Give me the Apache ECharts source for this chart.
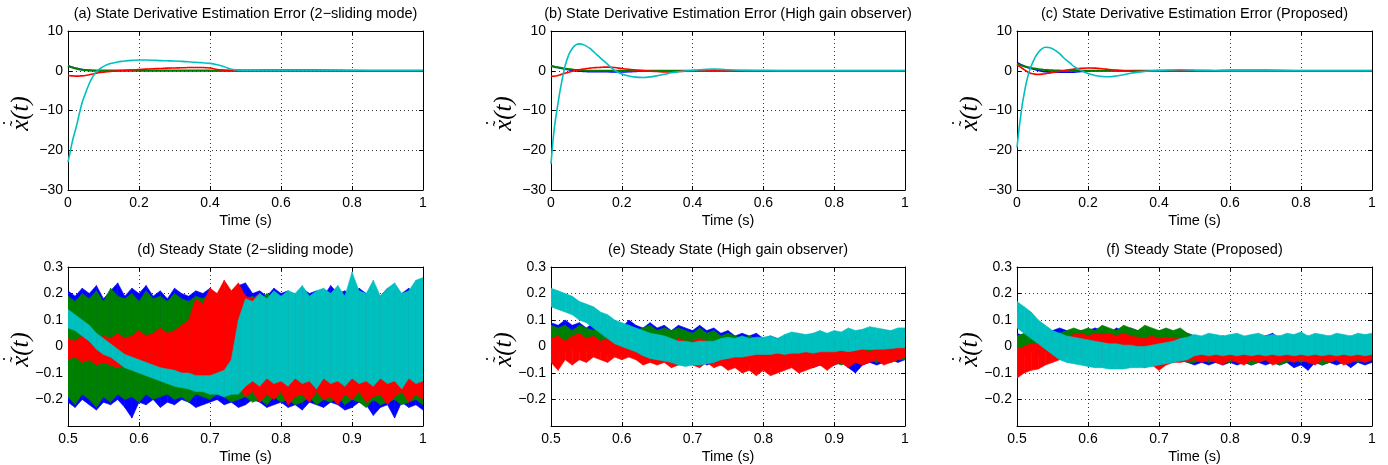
<!DOCTYPE html>
<html><head><meta charset="utf-8">
<script src="https://cdn.jsdelivr.net/npm/echarts@6/dist/echarts.min.js"></script>
<style>html,body{margin:0;padding:0;background:#fff}#c{width:1388px;height:465px}</style>
</head><body><div id="c"></div>
<script>
// ---------- transient (top row) data ----------
const T_TOP = [0,0.005,0.01,0.015,0.02,0.025,0.03,0.035,0.04,0.05,
 0.06,0.07,0.08,0.09,0.10,0.11,0.12,0.13,0.14,0.15,
 0.16,0.18,0.20,0.22,0.24,0.26,0.28,0.30,0.32,0.34,
 0.36,0.38,0.40,0.42,0.44,0.46,0.48,0.50,0.55,0.60,
 0.70,0.80,0.90,1.00];

const A_BLUE = [1.1,1.0,0.9,0.8,0.7,0.6,0.5,0.4,0.3,0.2,
 0.1,0.05,0,0,0,0,0,0,0,0, 0,0,0,0,0,0,0,0,0,0, 0,0,0,0,0,0,0,0,0,0, 0,0,0,0];
const A_GREEN = [1.3,1.1,0.9,0.75,0.6,0.5,0.4,0.3,0.25,0.15,
 0.1,0.05,0.05,0.05,0.05,0.05,0.05,0.05,0.05,0.05,
 0.05,0.05,0.05,0.05,0.05,0.05,0.05,0.05,0.05,0.05,
 0.05,0.05,0.05,0,0,0,0,0,0,0, 0,0,0,0];
const A_RED = [-1.2,-1.25,-1.3,-1.3,-1.35,-1.35,-1.35,-1.3,-1.3,-1.2,
 -1.0,-0.8,-0.6,-0.45,-0.35,-0.25,-0.15,-0.1,0.0,0.05,
 0.1,0.2,0.3,0.4,0.5,0.55,0.65,0.7,0.75,0.8,
 0.8,0.8,0.7,0.3,0.15,0.1,0.1,0.1,0.15,0.15,
 0.15,0.05,0,0];
const A_CYAN = [-23,-20.9,-18.7,-16.8,-15.2,-13.5,-11.5,-9.7,-7.9,-5.5,
 -3.2,-1.5,-0.2,0.5,1.1,1.5,1.8,2.0,2.2,2.35,
 2.45,2.6,2.7,2.7,2.65,2.55,2.5,2.45,2.35,2.25,
 2.15,2.0,1.85,1.5,1.0,0.4,0.15,0.1,0.1,0.1,
 0.1,0.05,0.05,0.05];

const B_BLUE = [1.2,1.1,1.0,0.9,0.8,0.7,0.6,0.5,0.4,0.25,
 0.1,0,-0.1,-0.15,-0.2,-0.25,-0.25,-0.25,-0.25,-0.25,
 -0.25,-0.3,-0.3,-0.25,-0.15,-0.05,0,0,0,0,
 0,0,0,0,0,0,0,0,0,0, 0,0,0,0];
const B_GREEN = [1.2,1.1,1.0,0.9,0.85,0.75,0.7,0.6,0.5,0.4,
 0.3,0.2,0.15,0.1,0.05,0,0,0,0,0,
 0,0,0,0,0,0,0,0,0,0, 0,0,0,0,0,0,0,0,0,0, 0,0,0,0];
const B_RED = [-1.4,-1.4,-1.35,-1.3,-1.2,-1.05,-0.9,-0.75,-0.6,-0.4,
 -0.15,0.05,0.25,0.4,0.55,0.65,0.75,0.8,0.85,0.9,
 0.9,0.8,0.55,0.35,0.2,0.05,-0.1,-0.2,-0.3,-0.3,
 -0.2,-0.1,0,0,0,0,0,0,0,0, 0,0,0,0];
const B_CYAN = [-23.5,-18.2,-14,-10.9,-8.1,-5.3,-2.9,-0.7,1.3,4.0,
 5.6,6.5,6.75,6.6,6.2,5.6,4.8,4.0,3.2,2.4,
 1.6,0.1,-0.8,-1.3,-1.6,-1.7,-1.55,-1.25,-0.9,-0.5,
 -0.25,-0.05,0.1,0.25,0.35,0.4,0.35,0.25,0.1,0.05,
 0,0,0,0];

const C_BLUE = [2.1,1.85,1.6,1.4,1.2,1.0,0.85,0.7,0.55,0.3,
 0.1,-0.1,-0.25,-0.3,-0.35,-0.35,-0.35,-0.35,-0.35,-0.35,
 -0.35,-0.2,-0.05,0,0,0,0,0,0,0,
 0,0,0,0,0,0,0,0,0,0, 0,0,0,0];
const C_GREEN = [1.7,1.55,1.4,1.25,1.1,1.0,0.9,0.8,0.7,0.55,
 0.4,0.3,0.2,0.15,0.1,0.05,0.05,0,0,0,
 0,0,0,0,0,0,0,0,0,0, 0,0,0,0,0,0,0,0,0,0, 0,0,0,0];
const C_RED = [1.5,1.2,0.9,0.6,0.3,0.0,-0.3,-0.5,-0.7,-0.85,
 -0.9,-0.85,-0.75,-0.6,-0.45,-0.3,-0.15,0.0,0.15,0.3,
 0.4,0.6,0.7,0.65,0.5,0.3,0.15,0.0,-0.1,-0.15,
 -0.1,-0.05,0,0,0,0,0,0,0,0.1,
 0.1,0,0,0];
const C_CYAN = [-19.3,-15.2,-11.7,-8.4,-5.9,-3.5,-1.6,0.0,1.2,3.2,
 4.6,5.5,5.9,5.85,5.55,5.0,4.3,3.4,2.6,1.9,
 1.1,0.1,-0.7,-1.2,-1.45,-1.5,-1.3,-1.0,-0.65,-0.35,
 -0.15,0.0,0.1,0.15,0.2,0.25,0.2,0.15,0.05,0,
 0,0,0,0];

// ---------- steady state (bottom row): envelopes of noisy traces ----------
const T_SS = [0.50,0.51,0.52,0.53,0.54,0.55,0.56,0.57,0.58,0.59,
 0.60,0.61,0.62,0.63,0.64,0.65,0.66,0.67,0.68,0.69,
 0.70,0.71,0.72,0.73,0.74,0.75,0.76,0.77,0.78,0.79,
 0.80,0.81,0.82,0.83,0.84,0.85,0.86,0.87,0.88,0.89,
 0.90,0.91,0.92,0.93,0.94,0.95,0.96,0.97,0.98,0.99,
 1.00];

// (d) 2-sliding mode
const D_BLUE_HI = [0.21,0.19,0.22,0.20,0.23,0.18,0.21,0.24,0.19,0.22,
 0.20,0.23,0.19,0.21,0.18,0.22,0.20,0.19,0.21,0.20,
 0.22,0.19,0.21,0.20,0.23,0.24,0.20,0.21,0.19,0.22,
 0.20,0.21,0.19,0.22,0.20,0.21,0.19,0.23,0.20,0.21,
 0.19,0.22,0.20,0.21,0.19,0.22,0.21,0.20,0.22,0.19, 0.21];
const D_BLUE_LO = [-0.21,-0.23,-0.20,-0.22,-0.24,-0.21,-0.22,-0.20,-0.23,-0.27,
 -0.21,-0.22,-0.20,-0.23,-0.21,-0.22,-0.20,-0.21,-0.23,-0.22,
 -0.21,-0.20,-0.22,-0.21,-0.23,-0.22,-0.20,-0.21,-0.23,-0.22,
 -0.21,-0.23,-0.22,-0.24,-0.21,-0.22,-0.23,-0.21,-0.22,-0.24,
 -0.23,-0.21,-0.22,-0.26,-0.23,-0.22,-0.27,-0.21,-0.23,-0.22, -0.24];
const D_GREEN_HI = [0.19,0.17,0.20,0.18,0.21,0.17,0.22,0.19,0.18,0.20,
 0.17,0.21,0.18,0.19,0.17,0.20,0.18,0.17,0.19,0.18,
 0.20,0.17,0.19,0.18,0.20,0.18,0.19,0.17,0.20,0.18,
 0.19,0.17,0.20,0.18,0.19,0.17,0.18,0.20,0.17,0.19,
 0.18,0.20,0.17,0.19,0.18,0.20,0.19,0.17,0.19,0.18, 0.19];
const D_GREEN_LO = [-0.19,-0.22,-0.18,-0.20,-0.23,-0.19,-0.21,-0.18,-0.20,-0.19,
 -0.21,-0.18,-0.20,-0.19,-0.18,-0.20,-0.19,-0.21,-0.18,-0.19,
 -0.20,-0.18,-0.19,-0.21,-0.20,-0.19,-0.21,-0.20,-0.22,-0.19,
 -0.21,-0.20,-0.22,-0.21,-0.19,-0.22,-0.20,-0.21,-0.19,-0.22,
 -0.20,-0.21,-0.23,-0.20,-0.22,-0.21,-0.20,-0.22,-0.21,-0.20, -0.22];
const D_RED_HI = [0.03,0.02,0.04,0.03,0.02,0.04,0.03,0.05,0.03,0.04,
 0.06,0.04,0.05,0.07,0.05,0.06,0.08,0.10,0.18,0.16,
 0.22,0.20,0.25,0.21,0.24,0.19,0.18,0.20,0.17,0.19,
 0.18,0.20,0.17,0.19,0.18,0.17,0.19,0.18,0.20,0.17,
 0.19,0.18,0.17,0.20,0.18,0.19,0.17,0.18,0.20,0.18, 0.19];
const D_RED_LO = [-0.05,-0.04,-0.06,-0.05,-0.07,-0.06,-0.07,-0.08,-0.07,-0.09,
 -0.08,-0.09,-0.10,-0.09,-0.11,-0.10,-0.11,-0.12,-0.11,-0.12,
 -0.11,-0.12,-0.13,-0.12,-0.15,-0.19,-0.17,-0.21,-0.18,-0.20,
 -0.17,-0.22,-0.19,-0.18,-0.21,-0.17,-0.20,-0.19,-0.22,-0.18,
 -0.20,-0.17,-0.21,-0.19,-0.18,-0.22,-0.19,-0.17,-0.21,-0.18, -0.20];
const D_CYAN_HI = [0.14,0.12,0.10,0.08,0.05,0.03,0.01,-0.01,-0.03,-0.04,
 -0.05,-0.06,-0.07,-0.08,-0.085,-0.09,-0.10,-0.10,-0.11,-0.11,
 -0.11,-0.10,-0.09,-0.05,0.10,0.18,0.17,0.20,0.18,0.21,
 0.19,0.21,0.20,0.23,0.19,0.21,0.22,0.20,0.23,0.19,
 0.28,0.21,0.20,0.25,0.19,0.22,0.24,0.20,0.21,0.25, 0.26];
const D_CYAN_LO = [0.07,0.06,0.04,0.02,-0.01,-0.03,-0.04,-0.06,-0.08,-0.09,
 -0.10,-0.11,-0.12,-0.13,-0.14,-0.15,-0.155,-0.16,-0.17,-0.17,
 -0.18,-0.18,-0.19,-0.18,-0.18,-0.15,-0.13,-0.15,-0.12,-0.14,
 -0.13,-0.15,-0.12,-0.14,-0.13,-0.16,-0.12,-0.14,-0.13,-0.15,
 -0.12,-0.14,-0.13,-0.15,-0.12,-0.14,-0.13,-0.16,-0.12,-0.14, -0.13];

// (e) high gain observer
const E_BLUE_HI = [0.09,0.08,0.10,0.08,0.09,0.07,0.09,0.08,0.07,0.09,
 0.07,0.10,0.08,0.07,0.09,0.07,0.08,0.06,0.08,0.07,
 0.06,0.08,0.06,0.07,0.05,0.06,0.04,0.05,0.04,0.05,
 0.03,0.04,0.03,0.04,0.03,0.04,0.03,0.04,0.03,0.04,
 0.03,0.04,0.03,0.04,0.03,0.04,0.03,0.04,0.03,0.04, 0.03];
const E_BLUE_LO = [-0.01,-0.02,0.00,-0.01,-0.02,-0.01,0.00,-0.02,-0.03,-0.02,
 -0.03,-0.02,-0.04,-0.03,-0.04,-0.05,-0.04,-0.05,-0.06,-0.05,
 -0.06,-0.05,-0.07,-0.06,-0.07,-0.08,-0.07,-0.08,-0.07,-0.09,
 -0.08,-0.07,-0.09,-0.08,-0.07,-0.08,-0.07,-0.08,-0.07,-0.08,
 -0.07,-0.06,-0.08,-0.10,-0.07,-0.06,-0.07,-0.06,-0.05,-0.06, -0.05];
const E_GREEN_HI = [0.08,0.07,0.08,0.06,0.08,0.07,0.06,0.08,0.07,0.06,
 0.07,0.08,0.06,0.07,0.08,0.06,0.07,0.06,0.07,0.06,
 0.05,0.07,0.05,0.06,0.04,0.05,0.04,0.03,0.04,0.03,
 0.03,0.02,0.03,0.02,0.03,0.02,0.03,0.02,0.03,0.02,
 0.03,0.02,0.03,0.02,0.03,0.02,0.03,0.02,0.03,0.02, 0.03];
const E_GREEN_LO = [-0.01,0.00,-0.02,-0.01,0.00,-0.01,-0.02,-0.01,-0.02,-0.03,
 -0.02,-0.03,-0.03,-0.04,-0.03,-0.04,-0.05,-0.04,-0.05,-0.05,
 -0.06,-0.05,-0.06,-0.06,-0.07,-0.06,-0.07,-0.06,-0.07,-0.06,
 -0.07,-0.06,-0.07,-0.06,-0.07,-0.06,-0.07,-0.06,-0.07,-0.06,
 -0.06,-0.07,-0.06,-0.05,-0.06,-0.05,-0.06,-0.05,-0.06,-0.05, -0.05];
const E_RED_HI = [0.03,0.04,0.02,0.04,0.05,0.03,0.04,0.02,0.03,0.01,
 0.00,-0.01,0.01,0.02,0.01,0.02,0.03,0.02,0.03,0.02,
 0.02,0.03,0.02,0.01,0.00,-0.02,-0.03,-0.02,-0.03,-0.02,
 -0.03,-0.02,-0.03,-0.02,-0.03,-0.02,-0.02,-0.01,-0.02,-0.01,
 -0.01,-0.02,-0.01,0.00,-0.01,-0.02,-0.01,0.00,-0.01,0.00, 0.01];
const E_RED_LO = [-0.06,-0.09,-0.05,-0.07,-0.05,-0.06,-0.04,-0.05,-0.06,-0.04,
 -0.05,-0.04,-0.05,-0.07,-0.06,-0.07,-0.06,-0.08,-0.07,-0.06,
 -0.07,-0.08,-0.06,-0.08,-0.07,-0.09,-0.08,-0.10,-0.09,-0.11,
 -0.09,-0.11,-0.10,-0.09,-0.08,-0.10,-0.09,-0.08,-0.07,-0.09,
 -0.07,-0.06,-0.08,-0.06,-0.07,-0.06,-0.05,-0.07,-0.06,-0.05, -0.04];
const E_CYAN_HI = [0.22,0.21,0.20,0.19,0.17,0.16,0.15,0.13,0.12,0.10,
 0.09,0.08,0.07,0.06,0.05,0.045,0.04,0.03,0.02,0.02,
 0.015,0.02,0.02,0.02,0.03,0.035,0.03,0.04,0.03,0.035,
 0.035,0.04,0.03,0.045,0.055,0.05,0.045,0.05,0.06,0.05,
 0.06,0.055,0.07,0.06,0.065,0.075,0.07,0.065,0.06,0.07, 0.07];
const E_CYAN_LO = [0.15,0.14,0.13,0.12,0.10,0.09,0.07,0.05,0.03,0.01,
 0.00,-0.01,-0.02,-0.035,-0.045,-0.05,-0.055,-0.06,-0.07,-0.075,
 -0.07,-0.07,-0.065,-0.06,-0.05,-0.045,-0.04,-0.04,-0.035,-0.03,
 -0.03,-0.03,-0.025,-0.03,-0.025,-0.025,-0.02,-0.025,-0.02,-0.02,
 -0.02,-0.015,-0.02,-0.015,-0.01,-0.012,-0.01,-0.01,-0.008,-0.005, -0.005];

// (f) proposed
const F_BLUE_HI = [0.05,0.04,0.06,0.05,0.04,0.06,0.07,0.06,0.05,0.06,
 0.06,0.07,0.06,0.05,0.07,0.06,0.07,0.06,0.05,0.06,
 0.05,0.06,0.05,0.06,0.05,0.04,0.03,0.04,0.03,0.04,
 0.03,0.04,0.03,0.04,0.03,0.04,0.05,0.03,0.04,0.03,
 0.04,0.03,0.04,0.03,0.04,0.03,0.04,0.03,0.04,0.03, 0.03];
const F_BLUE_LO = [-0.02,-0.03,-0.02,-0.03,-0.02,-0.03,-0.04,-0.03,-0.04,-0.03,
 -0.04,-0.03,-0.04,-0.05,-0.04,-0.05,-0.04,-0.05,-0.06,-0.05,
 -0.06,-0.05,-0.06,-0.05,-0.06,-0.07,-0.06,-0.07,-0.06,-0.07,
 -0.06,-0.07,-0.06,-0.07,-0.06,-0.07,-0.06,-0.07,-0.06,-0.08,
 -0.07,-0.09,-0.06,-0.07,-0.06,-0.07,-0.06,-0.08,-0.06,-0.07, -0.06];
const F_GREEN_HI = [0.04,0.05,0.04,0.03,0.04,0.03,0.05,0.06,0.07,0.06,
 0.07,0.06,0.08,0.07,0.06,0.08,0.07,0.06,0.08,0.07,
 0.06,0.07,0.06,0.07,0.05,0.04,0.03,0.04,0.03,0.04,
 0.03,0.04,0.03,0.04,0.03,0.04,0.03,0.04,0.03,0.04,
 0.03,0.04,0.03,0.04,0.03,0.04,0.03,0.04,0.03,0.04, 0.03];
const F_GREEN_LO = [-0.02,-0.01,-0.02,-0.01,-0.02,-0.01,-0.02,-0.01,-0.02,-0.01,
 -0.02,-0.01,-0.02,-0.02,-0.03,-0.02,-0.03,-0.03,-0.04,-0.04,
 -0.05,-0.04,-0.05,-0.05,-0.06,-0.06,-0.05,-0.06,-0.05,-0.06,
 -0.06,-0.05,-0.06,-0.07,-0.06,-0.05,-0.06,-0.07,-0.06,-0.05,
 -0.06,-0.05,-0.06,-0.07,-0.06,-0.05,-0.06,-0.05,-0.06,-0.05, -0.05];
const F_RED_HI = [-0.01,0.00,0.01,0.01,0.00,-0.02,0.00,0.04,0.045,0.05,
 0.04,0.05,0.045,0.05,0.04,0.05,0.04,0.035,0.03,0.04,
 0.03,0.035,0.03,0.03,0.02,-0.02,-0.03,-0.02,-0.03,-0.02,
 -0.03,-0.02,-0.03,-0.02,-0.03,-0.02,-0.03,-0.02,-0.03,-0.02,
 -0.02,-0.03,-0.02,-0.01,-0.02,-0.03,-0.02,-0.01,-0.02,-0.01, -0.01];
const F_RED_LO = [-0.12,-0.10,-0.09,-0.085,-0.07,-0.06,-0.05,-0.04,-0.05,-0.05,
 -0.06,-0.05,-0.06,-0.07,-0.06,-0.07,-0.06,-0.07,-0.08,-0.07,
 -0.09,-0.07,-0.06,-0.06,-0.055,-0.05,-0.06,-0.05,-0.06,-0.07,
 -0.05,-0.06,-0.07,-0.05,-0.06,-0.05,-0.07,-0.06,-0.05,-0.06,
 -0.05,-0.06,-0.07,-0.05,-0.06,-0.05,-0.07,-0.06,-0.05,-0.06, -0.05];
const F_CYAN_HI = [0.17,0.15,0.13,0.10,0.08,0.06,0.05,0.04,0.035,0.03,
 0.025,0.02,0.015,0.01,0.01,0.005,0.005,0.00,0.00,0.005,
 0.01,0.015,0.02,0.03,0.035,0.045,0.04,0.05,0.045,0.04,
 0.045,0.05,0.04,0.045,0.05,0.04,0.045,0.04,0.05,0.045,
 0.055,0.04,0.05,0.045,0.04,0.05,0.045,0.04,0.05,0.045, 0.05];
const F_CYAN_LO = [0.07,0.05,0.03,0.01,-0.01,-0.03,-0.05,-0.06,-0.065,-0.07,
 -0.075,-0.08,-0.08,-0.085,-0.085,-0.085,-0.08,-0.08,-0.08,-0.075,
 -0.07,-0.065,-0.06,-0.055,-0.05,-0.035,-0.03,-0.035,-0.03,-0.035,
 -0.03,-0.035,-0.03,-0.035,-0.03,-0.035,-0.03,-0.035,-0.03,-0.035,
 -0.03,-0.035,-0.03,-0.035,-0.03,-0.035,-0.03,-0.035,-0.03,-0.035, -0.03];

// ---------- texts & ticks ----------
const TITLES = [
 '(a) State Derivative Estimation Error (2\u2212sliding mode)',
 '(b) State Derivative Estimation Error (High gain observer)',
 '(c) State Derivative Estimation Error (Proposed)',
 '(d) Steady State (2\u2212sliding mode)',
 '(e) Steady State (High gain observer)',
 '(f) Steady State (Proposed)'];
const X_NAME = 'Time (s)';
const Y_NAME_BASE = 'x(t)';
const Y_NAME_TILDE = '\u02DC';
const Y_NAME_DOT = '\u02D9';
const TOP_X = {min:0, max:1, interval:0.2};
const TOP_Y = {min:-30, max:10, interval:10};
const BOT_X = {min:0.5, max:1, interval:0.1};
const BOT_Y = {min:-0.3, max:0.3, interval:0.1};

// ---------- layout ----------
const COLORS = {blue:'#0000FF', green:'#008000', red:'#FF0000', cyan:'#00BFBF'};
const FONT = '"Liberation Sans", Arial, Helvetica, sans-serif';
const SERIF = '"Liberation Serif", "DejaVu Serif", serif';
const GRIDS = [
 {left:68, top:31, width:355, height:159},
 {left:551, top:31, width:354, height:159},
 {left:1017, top:31, width:355, height:159},
 {left:68, top:267, width:355, height:159},
 {left:551, top:267, width:354, height:159},
 {left:1017, top:267, width:355, height:159}];

const TOP_DATA = [
 {blue:A_BLUE, green:A_GREEN, red:A_RED, cyan:A_CYAN},
 {blue:B_BLUE, green:B_GREEN, red:B_RED, cyan:B_CYAN},
 {blue:C_BLUE, green:C_GREEN, red:C_RED, cyan:C_CYAN}];
const BOT_DATA = [
 {blue:[D_BLUE_LO,D_BLUE_HI], green:[D_GREEN_LO,D_GREEN_HI], red:[D_RED_LO,D_RED_HI], cyan:[D_CYAN_LO,D_CYAN_HI]},
 {blue:[E_BLUE_LO,E_BLUE_HI], green:[E_GREEN_LO,E_GREEN_HI], red:[E_RED_LO,E_RED_HI], cyan:[E_CYAN_LO,E_CYAN_HI]},
 {blue:[F_BLUE_LO,F_BLUE_HI], green:[F_GREEN_LO,F_GREEN_HI], red:[F_RED_LO,F_RED_HI], cyan:[F_CYAN_LO,F_CYAN_HI]}];

function minus(s){ return s.replace('-', '\u2212'); }
function fmtTopY(v){ const r = Math.round(v); return r === 0 ? '0' : minus(String(r)); }
function fmtX(v){ const r = Math.round(v*10)/10; return String(r); }
function fmtBotY(v){ const r = Math.round(v*10)/10; if (r < -0.25) return ''; return r === 0 ? '0' : minus(String(r)); }

const xAxis = [], yAxis = [], series = [], title = [], graphic = [];
const axisLine = {onZero:false, lineStyle:{color:'#000', width:1}};
const axisTick = {inside:true, length:4, lineStyle:{color:'#000'}};
const splitLine = {show:true, lineStyle:{color:'#333', width:1, type:[1,3]}};
const lbl = {color:'#000', fontSize:14, fontFamily:FONT};

GRIDS.forEach((g, i) => {
  const top = i < 3;
  const xr = top ? TOP_X : BOT_X, yr = top ? TOP_Y : BOT_Y;
  xAxis.push({gridIndex:i, type:'value', position:'bottom', min:xr.min, max:xr.max, interval:xr.interval,
    axisLine, axisTick, splitLine,
    axisLabel:Object.assign({margin:6, formatter:fmtX, showMinLabel:true, showMaxLabel:true}, lbl),
    name:X_NAME, nameLocation:'middle', nameGap:23,
    nameTextStyle:{color:'#000', fontSize:14.5, fontFamily:FONT}});
  xAxis.push({gridIndex:i, type:'value', position:'top', min:xr.min, max:xr.max, interval:xr.interval,
    axisLine, axisTick, splitLine:{show:false}, axisLabel:{show:false}});
  yAxis.push({gridIndex:i, type:'value', position:'left', min:yr.min, max:yr.max, interval:yr.interval,
    axisLine, axisTick, splitLine,
    axisLabel:Object.assign({margin:5, formatter: top ? fmtTopY : fmtBotY, showMinLabel:true, showMaxLabel:true}, lbl)});
  yAxis.push({gridIndex:i, type:'value', position:'right', min:yr.min, max:yr.max, interval:yr.interval,
    axisLine, axisTick, splitLine:{show:false}, axisLabel:{show:false}});
  title.push({text:TITLES[i], left:g.left + g.width/2, top: top ? 6 : 242, textAlign:'center', padding:0,
    textStyle:{color:'#000', fontSize:14.5, fontWeight:'normal', fontFamily:FONT}});
  // rotated y-axis label: x with tilde and dot accents (reads bottom to top)
  const ys = {fill:'#000', fontFamily:SERIF, fontStyle:'italic', fontSize:25};
  const acc = {fill:'#000', fontFamily:SERIF, fontStyle:'normal', fontSize:18};
  graphic.push({type:'group', x:g.left - 47, y:g.top + g.height/2 + 3, rotation:Math.PI/2, silent:true,
    children:[
      {type:'text', x:0, y:0, style:Object.assign({text:Y_NAME_BASE, align:'center', verticalAlign:'middle'}, ys)},
      {type:'text', x:-10, y:-3, style:Object.assign({text:Y_NAME_TILDE, align:'center', verticalAlign:'middle'}, acc)},
      {type:'text', x:-9.5, y:-10, style:Object.assign({text:Y_NAME_DOT, align:'center', verticalAlign:'middle'}, acc)}
    ]});
});

['blue','green','red','cyan'].forEach(c => {
  TOP_DATA.forEach((d, i) => {
    series.push({type:'line', xAxisIndex:2*i, yAxisIndex:2*i, symbol:'none', silent:true,
      smooth:0.3, lineStyle:{color:COLORS[c], width: c === 'green' ? 2 : 1.6},
      data: T_TOP.map((t, k) => [t, d[c][k]])});
  });
});

// noisy bands: each data item is one segment [t0, lo0, hi0, t1, lo1, hi1], drawn as a polygon
function bandItem(params, api) {
  const t0 = api.value(0), l0 = api.value(1), h0 = api.value(2);
  const t1 = api.value(3), l1 = api.value(4), h1 = api.value(5);
  const pts = [api.coord([t0, h0]), api.coord([t1, h1]), api.coord([t1, l1]), api.coord([t0, l0])];
  const col = api.visual('color');
  return {type:'polygon', shape:{points:pts}, style:{fill:col, stroke:col, lineWidth:0.6}};
}
BOT_DATA.forEach((d, j) => {
  ['blue','green','red','cyan'].forEach((c, ci) => {
    const i = j + 3, lo = d[c][0], hi = d[c][1];
    const items = [];
    for (let k = 0; k < T_SS.length - 1; k++) items.push([T_SS[k], lo[k], hi[k], T_SS[k+1], lo[k+1], hi[k+1]]);
    series.push({type:'custom', xAxisIndex:2*i, yAxisIndex:2*i, silent:true, clip:true, z:2 + ci,
      itemStyle:{color:COLORS[c]}, renderItem:bandItem,
      encode:{x:[0,3], y:[1,2,4,5]}, data:items});
  });
});

const chart = echarts.init(document.getElementById('c'), null, {renderer:'canvas'});
chart.setOption({animation:false, backgroundColor:'#fff',
  grid: GRIDS.map(g => Object.assign({containLabel:false}, g)),
  title, xAxis, yAxis, series, graphic});
</script></body></html>
